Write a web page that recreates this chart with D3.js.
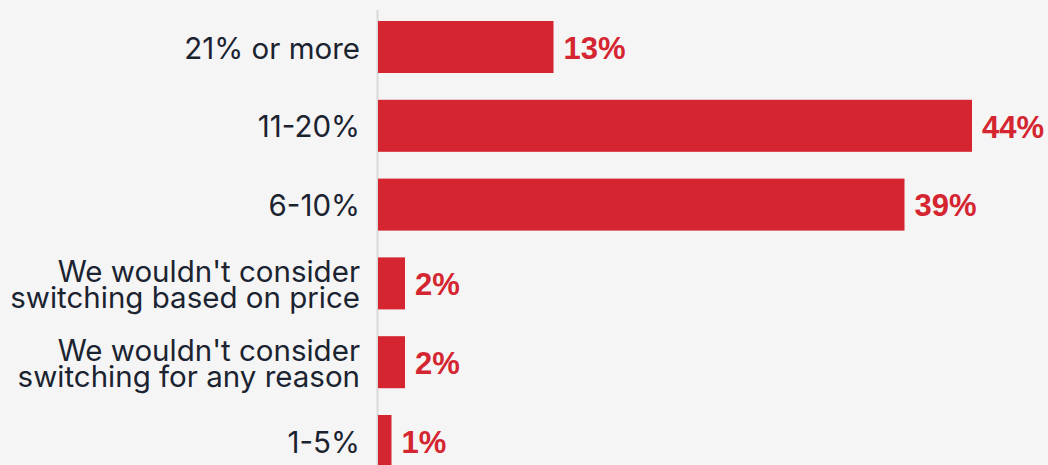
<!DOCTYPE html>
<html>
<head>
<meta charset="utf-8">
<script src="https://cdn.jsdelivr.net/npm/d3@7/dist/d3.min.js"></script>
<style>
  html, body { margin: 0; padding: 0; background: #f5f5f5; }
  svg { display: block; }
</style>
</head>
<body>
<svg id="chart" width="1048" height="465"></svg>
<script>
// Answer categories (top to bottom), each line of a label as its own entry
const categories = [
  ["21% or more"],
  ["11-20%"],
  ["6-10%"],
  ["We wouldn't consider", "switching based on price"],
  ["We wouldn't consider", "switching for any reason"],
  ["1-5%"]
];
// Share of respondents, in percent
const values = [13, 44, 39, 2, 2, 1];

const W = 1048, H = 465;
const axisX = 378;
const red = "#d42530";
const ink = "#1b2330";
const labelFont = "Inter, 'Liberation Sans', sans-serif";
const valueFont = "'Liberation Sans', Arial, sans-serif";

const svg = d3.select("#chart");
svg.append("rect").attr("width", W).attr("height", H).attr("fill", "#f5f5f5");

const keys = categories.map((c, i) => i);

const y = d3.scaleBand()
  .domain(keys)
  .range([7.6, 7.6 + 78.8 * keys.length])
  .paddingInner(0.34)
  .paddingOuter(0.17);

const x = d3.scaleLinear()
  .domain([0, d3.max(values)])
  .range([axisX, 972]);

// vertical baseline
svg.append("line")
  .attr("x1", axisX - 0.5).attr("x2", axisX - 0.5)
  .attr("y1", 10).attr("y2", H)
  .attr("stroke", "#d9d9d9").attr("stroke-width", 2);

// bars
svg.append("g").selectAll("rect")
  .data(keys)
  .join("rect")
  .attr("x", x(0))
  .attr("y", d => y(d))
  .attr("width", d => x(values[d]) - x(0))
  .attr("height", y.bandwidth())
  .attr("fill", red);

// value labels
svg.append("g").selectAll("text")
  .data(keys)
  .join("text")
  .attr("x", d => x(values[d]) + 10)
  .attr("y", d => y(d) + y.bandwidth() / 2)
  .attr("dy", "0.38em")
  .attr("fill", red)
  .attr("font-family", valueFont)
  .attr("font-weight", "bold")
  .attr("font-size", 31)
  .text(d => values[d] + "%");

// category labels
const fs = 29.5;
const lineGap = 26;
const cat = svg.append("g").selectAll("text")
  .data(keys)
  .join("text")
  .attr("text-anchor", "end")
  .attr("fill", ink)
  .attr("font-family", labelFont)
  .attr("font-size", fs)
  .attr("y", d => y(d) + y.bandwidth() / 2);

cat.selectAll("tspan")
  .data(d => categories[d].map((line, i, arr) => ({ line, i, n: arr.length })))
  .join("tspan")
  .attr("x", axisX - 18)
  .attr("dy", t => t.i === 0
    ? (-(t.n - 1) * lineGap / 2 + 0.39 * fs) + "px"
    : lineGap + "px")
  .text(t => t.line);
</script>
</body>
</html>
